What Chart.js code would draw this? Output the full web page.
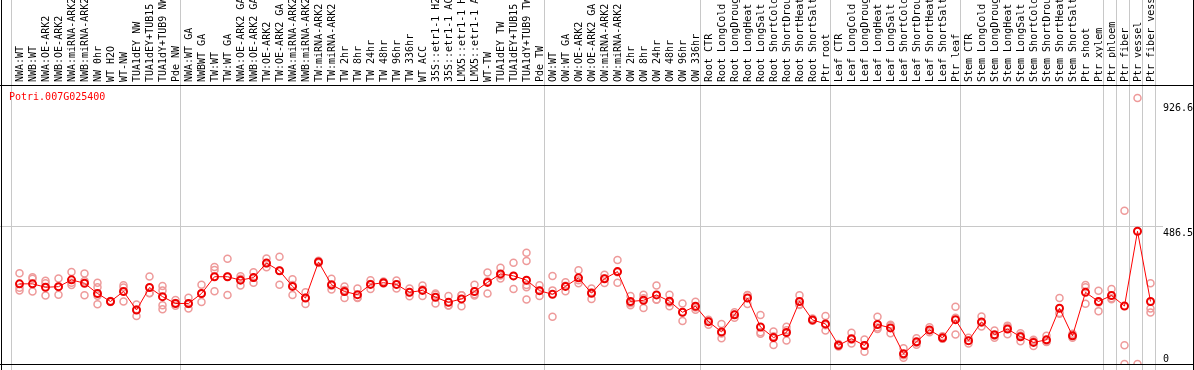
<!DOCTYPE html>
<html lang="en">
<head>
<meta charset="UTF-8">
<title>Potri.007G025400 expression</title>
<script src="https://cdn.jsdelivr.net/npm/chart.js"></script>
<style>
  html, body { margin: 0; padding: 0; background: #fff; }
  #wrap { width: 1194px; height: 370px; }
</style>
</head>
<body>
<div id="wrap"><canvas id="expr-chart" width="1194" height="370"></canvas></div>
<script>
const geneId = 'Potri.007G025400';

const sampleLabels = [
    'NWA:WT', 'NWB:WT', 'NWA:OE-ARK2', 'NWB:OE-ARK2', 'NWA:miRNA-ARK2', 'NWB:miRNA-ARK2',
    'NW 0hr', 'WT H2O', 'WT-NW', 'TUA1dEY NW', 'TUA1dEY+TUB15 NW', 'TUA1dY+TUB9 NW', 'Pde NW',
    'NWA:WT GA', 'NWBWT GA', 'TW:WT', 'TW:WT GA', 'NWA:OE-ARK2 GA', 'NWB:OE-ARK2 GA',
    'TW:OE-ARK2', 'TW:OE-ARK2 GA', 'NWA:miRNA-ARK2', 'NWB:miRNA-ARK2', 'TW:miRNA-ARK2', 'TW:miRNA-ARK2',
    'TW 2hr', 'TW 8hr', 'TW 24hr', 'TW 48hr', 'TW 96hr', 'TW 336hr', 'WT ACC',
    '35S::etr1-1 H2O', '35S::etr1-1 ACC', 'LMX5::etr1-1 H2O', 'LMX5::etr1-1 ACC',
    'WT-TW', 'TUA1dEY TW', 'TUA1dEY+TUB15 TW', 'TUA1dY+TUB9 TW', 'Pde TW',
    'OW:WT', 'OW:WT GA', 'OW:OE-ARK2', 'OW:OE-ARK2 GA', 'OW:miRNA-ARK2', 'OW:miRNA-ARK2',
    'OW 2hr', 'OW 8hr', 'OW 24hr', 'OW 48hr', 'OW 96hr', 'OW 336hr',
    'Root CTR', 'Root LongCold', 'Root LongDrought', 'Root LongHeat', 'Root LongSalt',
    'Root ShortCold', 'Root ShortDrought', 'Root ShortHeat', 'Root ShortSalt', 'Ptr root',
    'Leaf CTR', 'Leaf LongCold', 'Leaf LongDrought', 'Leaf LongHeat', 'Leaf LongSalt',
    'Leaf ShortCold', 'Leaf ShortDrought', 'Leaf ShortHeat', 'Leaf ShortSalt', 'Ptr leaf',
    'Stem CTR', 'Stem LongCold', 'Stem LongDrought', 'Stem LongHeat', 'Stem LongSalt',
    'Stem ShortCold', 'Stem ShortDrought', 'Stem ShortHeat', 'Stem ShortSalt', 'Ptr shoot', 'Ptr xylem',
    'Ptr phloem', 'Ptr fiber', 'Ptr vessel', 'Ptr fiber vessel'
];

// index of the first sample in each group (last entry = end)
const groupStarts = [0, 13, 41, 53, 63, 73, 84, 85, 86, 87, 88];

const meanValues = [
    282, 282, 270, 272, 296, 284, 248, 220, 255, 190, 269, 237, 213,
    213, 248, 307, 307, 295, 304, 355, 328, 273, 232, 359, 279, 255, 244, 280, 286, 280,
    252, 259, 235, 217, 229, 255, 287, 317, 310, 295, 258,
    245, 273, 303, 249, 300, 325, 220, 224, 243, 221, 182, 203,
    149, 113, 173, 232, 130, 93, 111, 220, 155, 141,
    66, 89, 65, 139, 127, 36, 78, 120, 92, 156,
    82, 148, 103, 123, 96, 76, 85, 196, 99, 252, 220,
    241, 204, 467, 220
];

const rep1 = [
    319, 305, 293, 301, 324, 318, 286, 222, 277, 209, 308, 274, 225,
    233, 279, 341, 370, 309, 323, 371, 377, 298, 252, 359, 300, 273, 266, 295, 290, 294,
    266, 276, 248, 239, 242, 279, 322, 339, 356, 391, 277,
    310, 288, 330, 266, 314, 366, 239, 244, 276, 244, 213, 219,
    156, 141, 182, 242, 172, 114, 131, 242, 160, 169,
    66, 110, 86, 166, 138, 55, 91, 129, 98, 201,
    92, 167, 118, 135, 108, 85, 99, 232, 106, 278, 258,
    264, 539, 936, 284
];

const rep2 = [
    259, 300, 284, 244, 278, 242, 270, 218, 269, 169, 250, 259, 215,
    195, 218, 331, 243, 276, 286, 340, 279, 243, 211, 355, 262, 232, 232, 264, 283, 266,
    238, 239, 213, 206, 203, 241, 248, 301, 264, 362, 239,
    166, 256, 284, 229, 285, 286, 207, 197, 226, 203, 151, 191,
    138, 91, 163, 211, 106, 67, 83, 208, 152, 118,
    62, 72, 43, 123, 108, 31, 68, 112, 89, 104,
    72, 132, 92, 105, 80, 63, 77, 179, 92, 270, 186,
    228, 66, 0, 195
];

const rep3 = [
    268, 255, 241, 271, 286, 292, 240, 220, 220, 192, 249, 207, 205,
    211, 247, 256, 308, 300, 303, 354, 328, 278, 233, 363, 275, 260, 234, 281, 285, 280,
    252, 262, 244, 206, 242, 245, 291, 311, 310, 278, 258,
    259, 275, 295, 252, 301, 323, 214, 231, 227, 216, 182, 199,
    153, 107, 174, 243, 112, 98, 119, 210, 153, 136,
    70, 85, 66, 128, 135, 22, 75, 119, 89, 163,
    82, 145, 99, 129, 100, 80, 79, 177, 99, 212, 216,
    231, 0, null, 181
];

// a few samples have more than three replicates
const extraRepIndex = [6, 11, 39, 39];
const extraRepValues = [210, 193, 270, 227];

const yTickValues = [0, 486.5, 926.6];
const yMax = 978;

const monoFont = "'DejaVu Sans Mono', 'Liberation Mono', monospace";

const framePlugin = {
    id: 'frame',
    beforeDatasetsDraw(chart) {
        const { ctx, chartArea, width, height } = chart;
        const x = chart.scales.x, y = chart.scales.y;
        const col = x.getPixelForValue(1) - x.getPixelForValue(0);
        ctx.save();
        ctx.fillStyle = '#c8c8c8';
        groupStarts.forEach(k => {
            const px = Math.round(x.getPixelForValue(0) + (k - 0.5) * col - 2);
            ctx.fillRect(px, 0, 1, height);
        });
        const gy = Math.round(y.getPixelForValue(yTickValues[1]));
        ctx.fillRect(0, gy, chartArea.right + 6, 1);

        ctx.fillStyle = '#000';
        ctx.fillRect(1, 0, 1, height);
        ctx.fillRect(width - 1, 0, 1, height);
        ctx.fillRect(0, chartArea.top - 1, width, 1);
        ctx.fillRect(0, chartArea.bottom, width, 1);
        ctx.restore();
    },
    afterDraw(chart) {
        const { ctx, chartArea } = chart;
        const y = chart.scales.y;
        ctx.save();
        ctx.font = '10px ' + monoFont;
        ctx.textBaseline = 'middle';
        ctx.textAlign = 'left';
        ctx.fillStyle = '#ff0000';
        ctx.fillText(geneId, 9, chartArea.top + 11);

        ctx.fillStyle = '#000';
        ctx.textBaseline = 'alphabetic';
        yTickValues.forEach(v => {
            const py = y.getPixelForValue(v);
            const base = v === 0 ? py - 2 : py + 10;
            ctx.fillText(String(v), chartArea.right + 6, base);
        });
        ctx.restore();
    }
};

const repStyle = {
    type: 'line',
    showLine: false,
    pointRadius: 3.5,
    pointBorderWidth: 1.5,
    pointBorderColor: '#ee9a9a',
    pointBackgroundColor: 'rgba(0,0,0,0)',
    pointHoverRadius: 3.5
};

new Chart(document.getElementById('expr-chart'), {
    data: {
        labels: sampleLabels,
        datasets: [
            {
                type: 'line',
                label: 'mean',
                data: meanValues,
                borderColor: '#ff0000',
                borderWidth: 1,
                pointRadius: 3.5,
                pointBorderWidth: 2,
                pointBorderColor: '#ee0000',
                pointBackgroundColor: 'rgba(0,0,0,0)',
                tension: 0
            },
            Object.assign({ label: 'rep1', data: rep1 }, repStyle),
            Object.assign({ label: 'rep2', data: rep2 }, repStyle),
            Object.assign({ label: 'rep3', data: rep3 }, repStyle),
            Object.assign({
                label: 'rep extra',
                data: extraRepIndex.map((k, i) => ({ x: sampleLabels[k], y: extraRepValues[i] }))
            }, repStyle)
        ]
    },
    options: {
        responsive: false,
        animation: false,
        devicePixelRatio: 1,
        layout: { padding: { left: 13, right: 37, top: 0, bottom: 1 } },
        plugins: { legend: { display: false }, tooltip: { enabled: false } },
        scales: {
            x: {
                type: 'category',
                position: 'top',
                offset: true,
                grid: { display: false },
                border: { display: false },
                ticks: {
                    autoSkip: false,
                    minRotation: 90,
                    maxRotation: 90,
                    padding: -4,
                    labelOffset: 13,
                    color: '#000',
                    font: { family: monoFont, size: 10 }
                },
                afterFit(scale) { scale.height = 86; }
            },
            y: {
                type: 'linear',
                display: false,
                min: 0,
                max: yMax
            }
        }
    },
    plugins: [framePlugin]
});
</script>
</body>
</html>
